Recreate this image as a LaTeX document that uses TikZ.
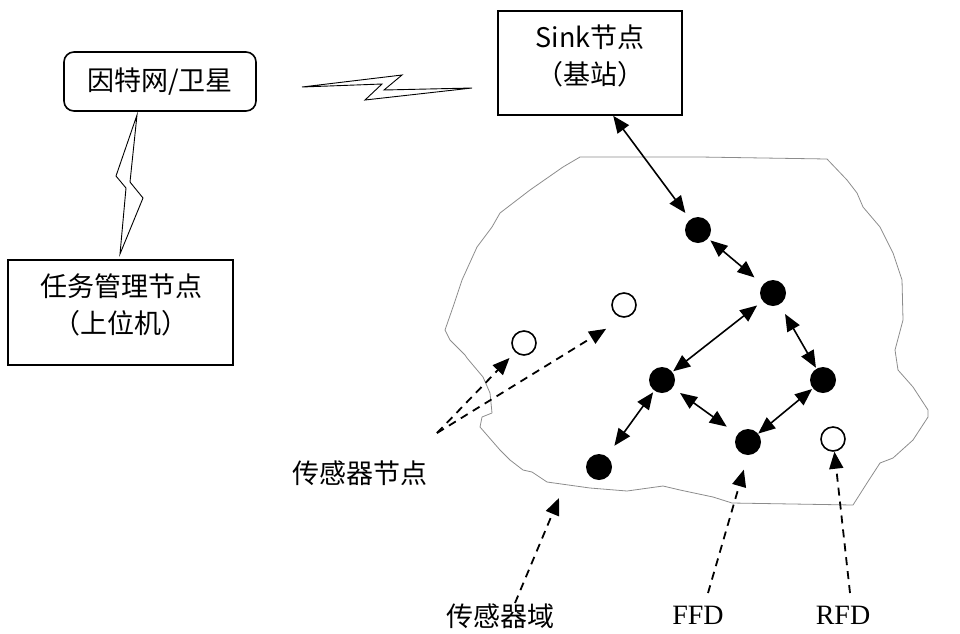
\documentclass[tikz,border=0pt]{standalone}
\usepackage{fontspec}
\newfontfamily\cjk{Noto Sans CJK SC}
\newfontfamily\latserif{Liberation Serif}
\usetikzlibrary{arrows.meta,calc}
\begin{document}
\begin{tikzpicture}[x=1pt,y=-1pt,
  box/.style={draw, line width=1.6pt},
  lbl/.style={font={\cjk\fontsize{27}{37}\selectfont}, inner sep=0pt, align=center},
  latlbl/.style={font={\latserif\fontsize{28}{34}\selectfont}, inner sep=0pt},
  fnode/.style={circle, fill=black, minimum size=26pt, inner sep=0pt},
  onode/.style={circle, draw, line width=1.6pt, fill=white, minimum size=24pt, inner sep=0pt},
  link/.style={{Triangle[length=17pt,width=14pt]}-{Triangle[length=17pt,width=14pt]}, line width=1.6pt},
  ptr/.style={-{Triangle[length=17pt,width=14pt]}, line width=1.8pt, dash pattern=on 8pt off 6pt},
  bolt/.style={draw, fill=white, line width=0.9pt, line join=miter},
  field/.style={draw=black!45, line width=0.8pt, line join=round}
]
\useasboundingbox (0,0) rectangle (960,633);

% sensor field outline
\draw[field] (580,157) -- (700,157) -- (827,159) -- (847,180) -- (857,193) -- (863,207)
  -- (880,227) -- (893,253) -- (902,280) -- (903,320) -- (895,350) -- (898,370)
  -- (913,387) -- (928,410) -- (928,417) -- (913,440) -- (893,458) -- (880,463)
  -- (867,483) -- (853,505) -- (732,503) -- (713,497) -- (680,490) -- (663,486)
  -- (627,491) -- (590,488) -- (547,482) -- (532,472) -- (523,470) -- (510,460)
  -- (500,450) -- (480,427) -- (482,417) -- (492,413) -- (490,393) -- (483,377)
  -- (467,358) -- (465,355) -- (450,340) -- (445,330) -- (453,307) -- (462,280)
  -- (477,247) -- (492,227) -- (500,213) -- (530,190) -- (563,167) -- cycle;

% boxes
\node[box, rounded corners=10pt, minimum width=192pt, minimum height=59pt, lbl] (inet) at (160,81.5) {因特网/卫星};
\node[box, minimum width=184pt, minimum height=104pt] (sink) at (590,63) {};
\node[lbl] (sinkt) at (590,56) {Sink节点\\（基站）};
\node[box, minimum width=225pt, minimum height=105pt] (task) at (120.5,312.5) {};
\node[lbl] (taskt) at (121,305) {任务管理节点\\（上位机）};

% wireless links
\draw[bolt] (137,115) -- (116,176) -- (126,188) -- (120,254) -- (143,198) -- (130,182) -- cycle;
\draw[bolt] (302,87) -- (402,75) -- (384,90) -- (472,88) -- (365,100) -- (382,84) -- cycle;

% sensor nodes
\node[fnode] (n1) at (698,230) {};
\node[fnode] (n2) at (773,293) {};
\node[fnode] (nml) at (662,380) {};
\node[fnode] (nr) at (823,380) {};
\node[fnode] (nffd) at (748,442) {};
\node[fnode] (nbl) at (599,467) {};
\node[onode] (o1) at (524,343) {};
\node[onode] (o2) at (624,305) {};
\node[onode] (o3) at (833,439) {};

% links between full-function devices
\coordinate (sinkfoot) at ($(sink.south west)!0.625!(sink.south east)$);
\draw[link, shorten >=8pt] (sinkfoot) -- (n1);
\draw[link, shorten <=3pt, shorten >=11pt] (n1) -- (n2);
\draw[link, shorten <=7pt, shorten >=1pt] (n2) -- (nml);
\draw[link, shorten <=11pt, shorten >=1pt] (n2) -- (nr);
\draw[link, shorten <=1pt] (nr) -- (nffd);
\draw[link, shorten <=9pt, shorten >=13pt] (nml) -- (nffd);
\draw[link, shorten <=2pt, shorten >=13pt] (nml) -- (nbl);

% labels
\node[lbl] (lsn) at (360,473) {传感器节点};
\node[lbl] (lfield) at (500,616) {传感器域};
\node[latlbl] (lffd) at (698,615) {FFD};
\node[latlbl] (lrfd) at (843,615) {RFD};

% label pointers
\coordinate (snfoot) at (437,433);
\draw[ptr, shorten >=8pt] (snfoot) -- (o1);
\draw[ptr, shorten >=21pt] (snfoot) -- (o2.south);
\coordinate (fieldfoot) at (515,603);
\coordinate (fieldedge) at (559,498);
\draw[ptr] (fieldfoot) -- (fieldedge);
\coordinate (ffdfoot) at (708,593);
\draw[ptr, shorten >=15pt] (ffdfoot) -- (nffd.south);
\coordinate (rfdfoot) at (850,593);
\draw[ptr] (rfdfoot) -- (o3);
\end{tikzpicture}
\end{document}
